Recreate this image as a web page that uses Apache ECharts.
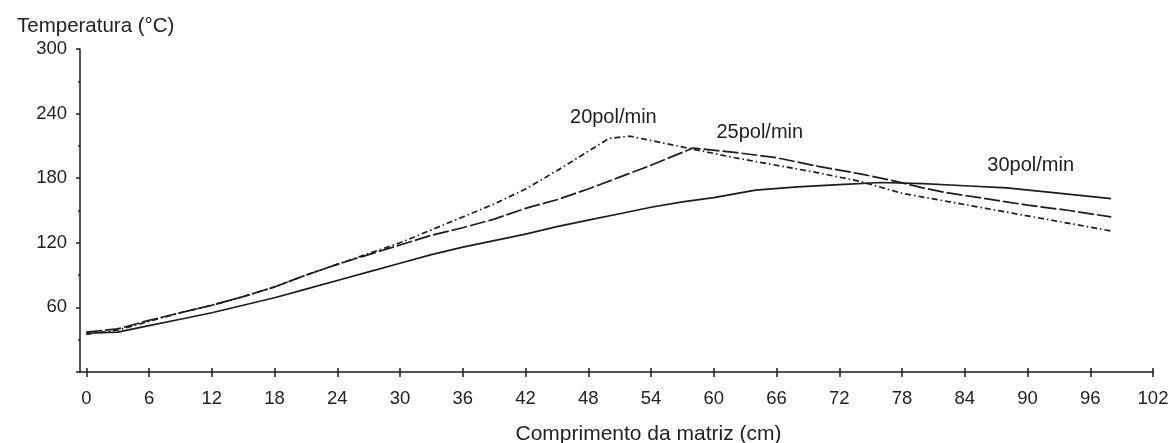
<!DOCTYPE html>
<html>
<head>
<meta charset="utf-8">
<script src="https://cdn.jsdelivr.net/npm/echarts@6/dist/echarts.min.js"></script>
<style>html,body{margin:0;padding:0;background:#fff;}#c{width:1175px;height:443px;}</style>
</head>
<body>
<div id="c"></div>
<script>
// Data
const xTicks = [0, 6, 12, 18, 24, 30, 36, 42, 48, 54, 60, 66, 72, 78, 84, 90, 96, 102];
const yTicks = [60, 120, 180, 240, 300];

const x20 = [0, 3, 6, 9, 12, 15, 18, 21, 24, 27, 30, 33, 36, 39, 42, 45, 48, 50, 52, 55, 58, 62, 66, 70, 74, 78, 82, 86, 90, 94, 98];
const y20 = [35, 39, 47, 55, 62, 70, 79, 90, 100, 110, 120, 132, 144, 156, 170, 187, 205, 217, 219, 213, 207, 199, 192, 185, 177, 166, 159, 152, 145, 138, 131];

const x25 = [0, 3, 6, 9, 12, 15, 18, 21, 24, 27, 30, 33, 36, 39, 42, 45, 48, 51, 54, 57, 58, 62, 66, 70, 74, 77, 80, 82, 86, 90, 94, 98];
const y25 = [37, 40, 48, 55, 62, 70, 79, 90, 100, 109, 118, 127, 134, 142, 152, 160, 170, 181, 192, 204, 208, 204, 199, 191, 184, 178, 171, 167, 161, 155, 150, 144];

const x30 = [0, 3, 6, 9, 12, 15, 18, 21, 24, 27, 30, 33, 36, 39, 42, 45, 48, 51, 54, 57, 60, 64, 68, 72, 76, 80, 84, 88, 92, 98];
const y30 = [36, 37, 43, 49, 55, 62, 69, 77, 85, 93, 101, 109, 116, 122, 128, 135, 141, 147, 153, 158, 162, 169, 172, 174, 176, 175, 173, 171, 167, 161];

const seriesNames = ['20pol/min', '25pol/min', '30pol/min'];

const pairs = (xs, ys) => xs.map((x, i) => [x, ys[i]]);
const ink = '#1c1c1c';
const txt = '#222222';
const font = 'Liberation Sans, Arial, sans-serif';

const chart = echarts.init(document.getElementById('c'), null, {renderer: 'canvas'});

function lbl(name, coord) {
  return {
    symbol: 'rect',
    symbolSize: 2,
    silent: true,
    itemStyle: {color: 'rgba(0,0,0,0)'},
    label: {show: true, formatter: name, color: txt, fontSize: 20, fontFamily: font, position: 'inside'},
    data: [{coord: coord}]
  };
}

chart.setOption({
  animation: false,
  backgroundColor: '#ffffff',
  title: {
    text: 'Temperatura (°C)',
    left: 12, top: 11,
    textStyle: {fontSize: 20.5, fontWeight: 'normal', color: txt, fontFamily: font}
  },
  grid: {left: 80, right: 22, top: 49, bottom: 71, containLabel: false, outerBoundsMode: 'none'},
  xAxis: [{
    type: 'value',
    min: -0.6, max: 102,
    name: 'Comprimento da matriz (cm)',
    nameLocation: 'middle',
    nameGap: 52,
    nameTextStyle: {fontSize: 21, color: txt, fontFamily: font, padding: [0, 0, 0, 64]},
    axisLine: {show: true, lineStyle: {color: ink, width: 1.5}},
    axisTick: {show: true, customValues: xTicks, length: 5, lineStyle: {color: ink, width: 1.5}},
    axisLabel: {customValues: xTicks, color: txt, fontSize: 18.5, fontFamily: font, margin: 17},
    splitLine: {show: false}
  }, {
    type: 'value',
    min: -0.6, max: 102,
    position: 'bottom',
    axisLine: {show: false},
    axisTick: {show: true, inside: true, customValues: xTicks, length: 4, lineStyle: {color: ink, width: 1.5}},
    axisLabel: {show: false},
    splitLine: {show: false}
  }],
  yAxis: {
    type: 'value',
    min: 0, max: 300, interval: 60,
    axisLine: {show: true, onZero: false, lineStyle: {color: ink, width: 1.5}},
    axisTick: {show: true, length: 4, lineStyle: {color: ink, width: 1.5}},
    minorTick: {show: true, splitNumber: 2, length: 2, lineStyle: {color: ink, width: 1.5}},
    axisLabel: {
      color: txt, fontSize: 18.5, fontFamily: font, margin: 13,
      formatter: v => (yTicks.indexOf(v) >= 0 ? String(v) : '')
    },
    splitLine: {show: false}
  },
  series: [{
    name: seriesNames[0], type: 'line', data: pairs(x20, y20), symbol: 'none',
    lineStyle: {color: ink, width: 1.7, type: [6, 3, 1.5, 3]},
    markPoint: lbl(seriesNames[0], [50.4, 236])
  }, {
    name: seriesNames[1], type: 'line', data: pairs(x25, y25), symbol: 'none',
    lineStyle: {color: ink, width: 1.7, type: [16, 3]},
    markPoint: lbl(seriesNames[1], [64.4, 222])
  }, {
    name: seriesNames[2], type: 'line', data: pairs(x30, y30), symbol: 'none',
    lineStyle: {color: ink, width: 1.7, type: 'solid'},
    markPoint: lbl(seriesNames[2], [90.3, 192])
  }]
});
</script>
</body>
</html>
